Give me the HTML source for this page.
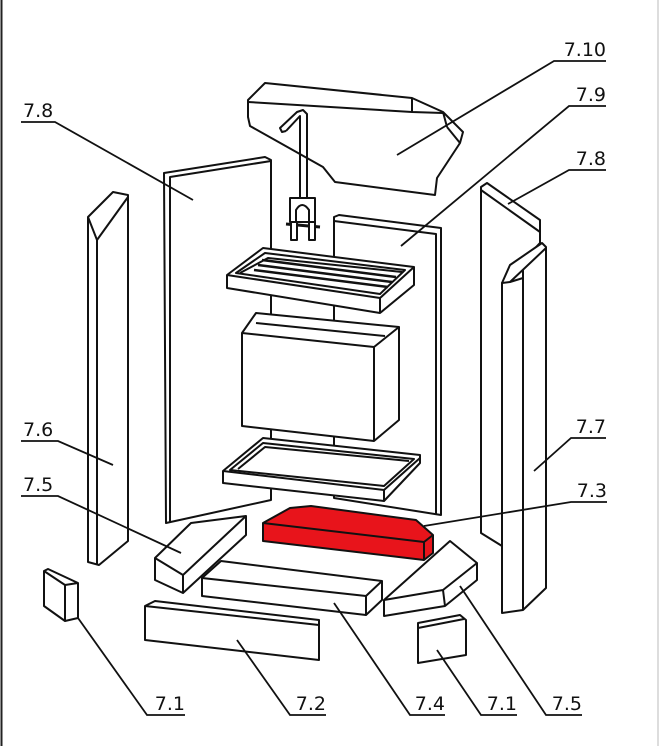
<!DOCTYPE html>
<html><head><meta charset="utf-8"><style>
html,body{margin:0;padding:0;background:#fff}
svg{display:block}
text{font-family:"DejaVu Sans","Liberation Sans",sans-serif;font-size:19px;fill:#111}
</style></head><body>
<svg width="659" height="746" viewBox="0 0 659 746" xmlns="http://www.w3.org/2000/svg">
<rect x="0" y="0" width="659" height="746" fill="#fff"/>
<line x1="1.5" y1="0" x2="1.5" y2="746" stroke="#222" stroke-width="2"/>
<line x1="658" y1="0" x2="658" y2="746" stroke="#bbb" stroke-width="1"/>
<g fill="none" stroke="#111" stroke-width="2" stroke-linejoin="round">
<!-- 7.10 slab -->
<polygon fill="#fff" points="248,100 265,83 412,98 443,112 463,132 460,143 437,178 435,195 335,182 323,167 250,126 248,117"/>
<polyline points="248,102 412,112 443,113"/>
<line x1="412" y1="98" x2="412" y2="112"/>
<line x1="443" y1="112" x2="447" y2="127"/><line x1="447" y1="127" x2="460" y2="143"/>
<!-- hook -->
<polyline points="300,200 300,116 286,131"/>
<polyline points="307,200 307,114 303,110 297,112 280,128 282,132 286,131"/>
<rect x="290" y="198" width="25" height="24" fill="#fff"/>
<path d="M296,222 V210 Q302,200 309,210 V222"/>
<line x1="286" y1="224" x2="320" y2="227" stroke-width="3"/>
<rect x="291" y="222" width="6" height="18" fill="#fff"/><rect x="309" y="222" width="6" height="18" fill="#fff"/>
<!-- left 7.8 panel -->
<polygon fill="#fff" points="164,173 265,157 271,160 271,500 166,523"/>
<polyline points="170,523 170,177 271,161"/>
<!-- 7.6 panel -->
<polygon fill="#fff" points="88,217 113,192 128,195 128,541 99,565 88,562"/>
<polyline points="88,217 97,240 97,565"/><line x1="97" y1="240" x2="128" y2="197"/>
<!-- 7.9 back panel -->
<polygon fill="#fff" points="334,217 339,215 441,228 441,515 334,498"/>
<polyline points="334,221 436,234 436,515"/>
<!-- right 7.8 panel -->
<polygon fill="#fff" points="481,187 487,183 540,220 540,243 502,283 502,546 481,533"/>
<line x1="481" y1="190" x2="540" y2="232"/>
<!-- 7.7 panel -->
<polygon fill="#fff" points="502,283 510,265 542,243 546,247 546,588 523,610 502,613"/>
<polyline points="502,283 510,282 546,248"/><line x1="523" y1="270" x2="523" y2="610"/><line x1="510" y1="282" x2="523" y2="278"/>
<!-- grate tray -->
<polygon fill="#fff" points="227,275 263,248 414,267 414,285 380,313 227,288"/>
<polyline points="227,275 380,298 414,267"/><line x1="380" y1="298" x2="380" y2="313"/>
<polygon points="236,273 265,253 405,270 380,294"/>
<polyline points="240,273 268,258 402,272"/>
<g stroke-width="2.5"><line x1="258" y1="265" x2="392" y2="282"/><line x1="254" y1="270" x2="388" y2="287"/><line x1="262" y1="260" x2="396" y2="277"/></g>
<!-- box -->
<polygon fill="#fff" points="242,333 256,313 399,327 399,420 374,441 242,426"/>
<polyline points="242,333 374,347 399,327"/><line x1="374" y1="347" x2="374" y2="441"/>
<line x1="256" y1="323" x2="385" y2="336"/>
<!-- ash pan -->
<polygon fill="#fff" points="223,471 263,438 420,455 420,463 384,501 223,483"/>
<polyline points="223,471 384,490 420,458"/><line x1="384" y1="490" x2="384" y2="501"/>
<polygon points="230,470 263,443 414,459 384,486"/>
<polyline points="238,469 265,447 409,461"/>
<!-- 7.3 red -->
<polygon fill="#e8141b" points="263,523 290,508 311,506 416,520 433,535 433,553 424,560 263,541"/>
<polyline points="263,523 424,542 433,535"/><line x1="424" y1="542" x2="424" y2="560"/>
<!-- left 7.5 -->
<polygon fill="#fff" points="155,558 191,523 246,516 246,535 183,593 155,580"/>
<polyline points="155,558 183,575 246,516"/><line x1="183" y1="575" x2="183" y2="593"/>
<!-- 7.4 -->
<polygon fill="#fff" points="202,578 221,561 382,581 382,600 366,615 202,596"/>
<polyline points="202,578 366,596 382,581"/><line x1="366" y1="596" x2="366" y2="615"/>
<!-- right 7.5 -->
<polygon fill="#fff" points="384,600 450,541 477,563 477,580 445,606 384,616"/>
<polyline points="384,600 443,590 477,563"/><line x1="443" y1="590" x2="445" y2="606"/>
<!-- 7.2 -->
<polygon fill="#fff" points="145,606 155,601 319,620 319,660 145,640"/>
<line x1="145" y1="606" x2="319" y2="625"/>
<!-- 7.1 left -->
<polygon fill="#fff" points="44,571 48,569 78,583 78,618 65,621 44,606"/>
<polyline points="44,571 65,585 78,583"/><line x1="65" y1="585" x2="65" y2="621"/>
<!-- 7.1 right -->
<polygon fill="#fff" points="418,623 460,615 466,620 466,655 418,663"/>
<line x1="418" y1="628" x2="464" y2="619"/>
</g>
<!-- leaders -->
<g fill="none" stroke="#111" stroke-width="1.8">
<polyline points="606,61 554,61 397,155"/>
<polyline points="606,106 569,106 401,246"/>
<polyline points="606,170 569,170 508,204"/>
<polyline points="21,122 55,122 193,200"/>
<polyline points="21,441 58,441 113,465"/>
<polyline points="21,496 58,496 181,553"/>
<polyline points="606,438 571,438 534,471"/>
<polyline points="607,502 571,502 424,526"/>
<polyline points="185,715 147,715 78,618"/>
<polyline points="326,715 290,715 237,640"/>
<polyline points="445,715 410,715 334,603"/>
<polyline points="517,715 481,715 437,650"/>
<polyline points="582,715 546,715 460,586"/>
</g>
<g>
<text x="606" y="56" text-anchor="end">7.10</text>
<text x="606" y="101" text-anchor="end">7.9</text>
<text x="606" y="165" text-anchor="end">7.8</text>
<text x="23" y="117">7.8</text>
<text x="23" y="436">7.6</text>
<text x="23" y="491">7.5</text>
<text x="606" y="433" text-anchor="end">7.7</text>
<text x="607" y="497" text-anchor="end">7.3</text>
<text x="185" y="710" text-anchor="end">7.1</text>
<text x="326" y="710" text-anchor="end">7.2</text>
<text x="445" y="710" text-anchor="end">7.4</text>
<text x="517" y="710" text-anchor="end">7.1</text>
<text x="582" y="710" text-anchor="end">7.5</text>
</g>
</svg>
</body></html>
